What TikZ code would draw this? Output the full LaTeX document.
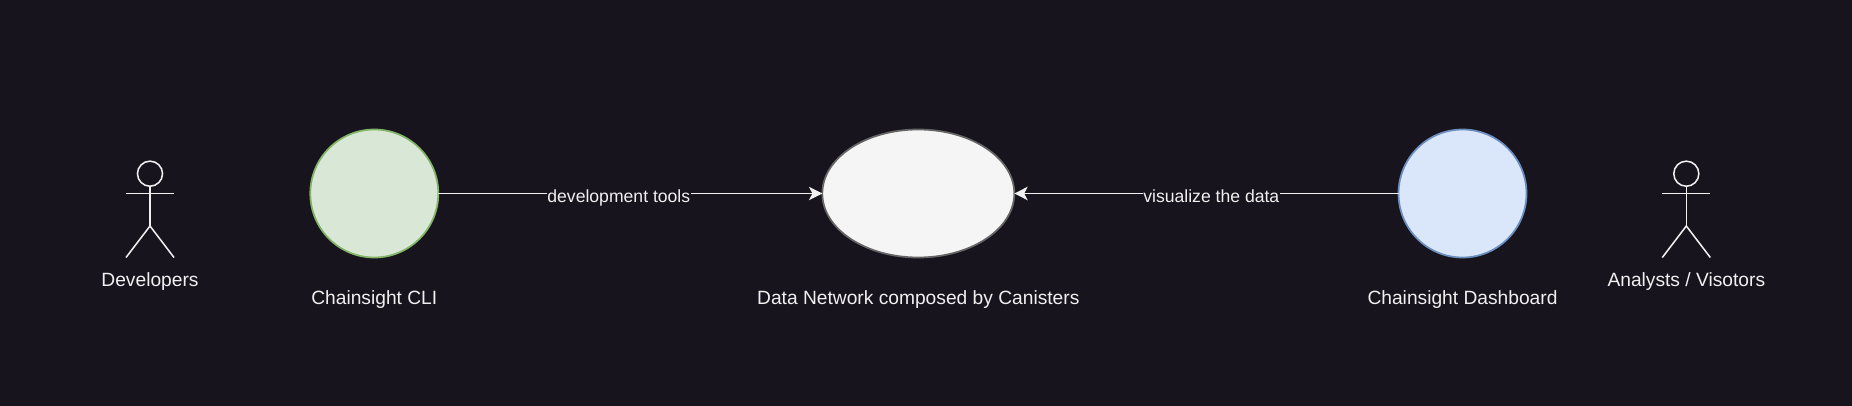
\documentclass[tikz,border=0pt]{standalone}
\usepackage{fontspec}
\setmainfont{Liberation Sans}
\usetikzlibrary{arrows.meta,shapes.geometric}
\definecolor{bgc}{HTML}{18141D}
\definecolor{txt}{HTML}{F0F0F0}
\definecolor{gfill}{HTML}{D9E8D6}
\definecolor{gline}{HTML}{82B366}
\definecolor{bfill}{HTML}{DAE6FA}
\definecolor{bline}{HTML}{6C8EBF}
\definecolor{wfill}{HTML}{F5F5F5}
\definecolor{wline}{HTML}{666666}
\tikzset{
  x=0.75pt,y=-0.75pt,
  every node/.style={inner sep=0pt,outer sep=0pt},
  lbl/.style={text=txt,font=\fontsize{14.4pt}{17pt}\selectfont,anchor=base},
  edgelbl/.style={text=txt,font=\fontsize{13.2pt}{16pt}\selectfont,anchor=base,fill=bgc,inner xsep=0.3pt,inner ysep=1pt},
  blob/.style={line width=1.3pt,minimum width=96pt,minimum height=96pt,shape=ellipse},
  stick/.style={draw=txt,line width=1.15pt},
  flow/.style={draw=txt,line width=1.15pt,-{Stealth[inset=2.6pt,length=10pt,width=10pt]}}
}
\newcommand{\stickman}[2]{%
  \node[stick,circle,minimum size=18.8pt,fill=none] (#2head) at (#1,173.7) {};
  \coordinate (#2neck) at (#1,193.7);
  \coordinate (#2hip) at (#1,226);
  \coordinate (#2la) at (#1-24,193.7);
  \coordinate (#2ra) at (#1+24,193.7);
  \coordinate (#2ll) at (#1-24,257.5);
  \coordinate (#2rl) at (#1+24,257.5);
  \draw[stick] (#2head.south) -- (#2hip);
  \draw[stick] (#2la) -- (#2ra);
  \draw[stick] (#2ll) -- (#2hip) -- (#2rl);
}
\begin{document}
\begin{tikzpicture}
\useasboundingbox[fill=bgc] (0,0) rectangle (1852,406);
\stickman{150}{a}
\stickman{1686.3}{b}
\node[blob,draw=gline,fill=gfill] (cli) at (374.3,193.5) {};
\node[blob,draw=wline,fill=wfill,minimum width=144pt] (net) at (918.3,193.5) {};
\node[blob,draw=bline,fill=bfill] (dash) at (1462.5,193.5) {};
\draw[flow] (cli.east) -- (net.west);
\draw[flow] (dash.west) -- (net.east);
\node[edgelbl] (l1) at (618.8,202.3) {development tools};
\node[edgelbl] (l2) at (1211.3,202.3) {visualize the data};
\node[lbl] (t1) at (150,286) {Developers};
\node[lbl] (t2) at (374.3,304) {Chainsight CLI};
\node[lbl] (t3) at (918.3,304) {Data Network composed by Canisters};
\node[lbl] (t4) at (1462.5,304) {Chainsight Dashboard};
\node[lbl] (t5) at (1686.3,286) {Analysts / Visotors};
\end{tikzpicture}
\end{document}
